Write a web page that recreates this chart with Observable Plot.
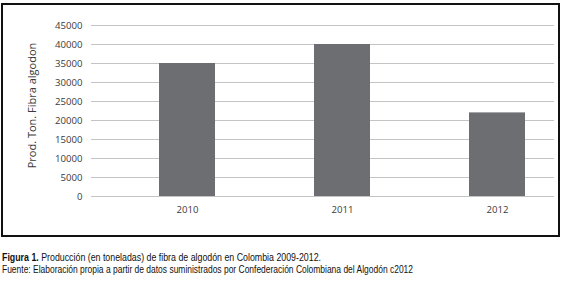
<!DOCTYPE html>
<html>
<head>
<meta charset="utf-8">
<script src="https://cdn.jsdelivr.net/npm/d3@7"></script>
<script src="https://cdn.jsdelivr.net/npm/@observablehq/plot@0.6"></script>
<style>
  html, body { margin: 0; padding: 0; background: #fff; }
  #wrap { position: relative; width: 564px; height: 288px; overflow: hidden; }
  #chart { position: absolute; left: 0; top: 0; }
  #box { position: absolute; left: 1px; top: 3px; width: 559px; height: 234px; box-sizing: border-box; border: 2px solid #111; pointer-events: none; }
  .cap { position: absolute; left: 2px; white-space: nowrap; font-family: "Liberation Sans Narrow", "Liberation Sans", "DejaVu Sans", sans-serif; font-size: 11px; line-height: 12px; color: #111; transform-origin: 0 0; }
  .cap b { font-weight: bold; }
</style>
</head>
<body>
<div id="wrap">
  <div id="chart"></div>
  <div id="box"></div>
  <div class="cap" id="cap1" style="top:251px"><b>Figura 1.</b> Producción (en toneladas) de fibra de algodón en Colombia 2009-2012.</div>
  <div class="cap" id="cap2" style="top:263px">Fuente: Elaboración propia a partir de datos suministrados por Confederación Colombiana del Algodón c2012</div>
</div>
<script>
const years = ["2010", "2011", "2012"];
const production = [35000, 40000, 22000];
const yTicks = [0, 5000, 10000, 15000, 20000, 25000, 30000, 35000, 40000, 45000];
const yTitle = "Prod. Ton. Fibra algodon";

const data = years.map((y, i) => ({year: y, value: production[i]}));

const chart = Plot.plot({
  width: 564,
  height: 238,
  marginLeft: 91,
  marginRight: 10,
  marginTop: 25,
  marginBottom: 42,
  style: {fontFamily: "'Open Sans', sans-serif", background: "transparent"},
  x: {domain: years, range: [59, 624], padding: 0.64, label: null},
  y: {domain: [0, 45000], label: null},
  marks: [
    Plot.ruleY(yTicks, {stroke: "#c4c4c4", strokeWidth: 1}),
    Plot.barY(data, {x: "year", y: "value", fill: "#6d6e71"}),
    Plot.axisY({ticks: yTicks, tickSize: 0, tickPadding: 9, fontSize: 9.6, fill: "#3a3a3a", label: null, tickFormat: d => String(d)}),
    Plot.axisX({tickSize: 0, tickPadding: 10, fontSize: 9.6, fill: "#3a3a3a", label: null}),
    Plot.text([yTitle], {frameAnchor: "left", rotate: -90, dx: -59.5, dy: -5.5, fontSize: 11, fill: "#3a3a3a", textAnchor: "middle", lineAnchor: "middle"})
  ]
});
document.getElementById("chart").appendChild(chart);

function fit(id, w) {
  const el = document.getElementById(id);
  const cur = el.getBoundingClientRect().width;
  if (cur > 0) el.style.transform = `scaleX(${w / cur})`;
}
fit("cap1", 319);
fit("cap2", 411);
</script>
</body>
</html>
